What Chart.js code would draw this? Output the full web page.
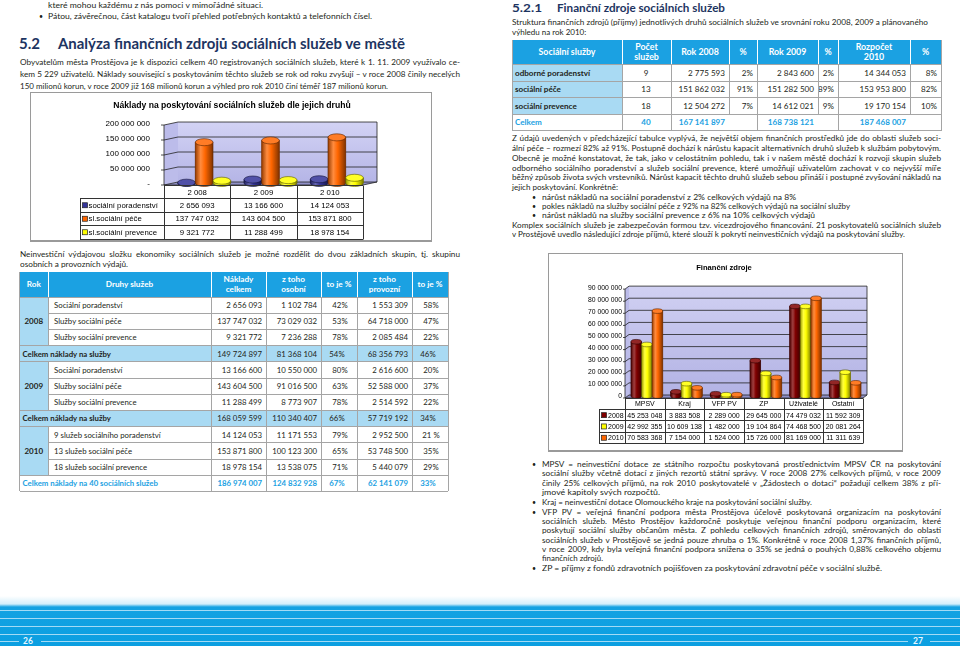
<!DOCTYPE html>
<html><head><meta charset="utf-8">
<script src="https://cdn.jsdelivr.net/npm/chart.js@4.4.0/dist/chart.umd.min.js"></script>
<style>
html,body{margin:0;padding:0;background:#fff;}
#page{position:relative;width:960px;height:646px;overflow:hidden;font-family:Lato,"Open Sans",sans-serif;color:#231f20;}
.t{position:absolute;white-space:nowrap;transform-origin:0 50%;}
.c{position:absolute;box-sizing:border-box;display:flex;align-items:center;white-space:pre;text-align:center;}
canvas{position:absolute;}
</style></head><body><div id="page"></div>
<script>
// ---------- DATA ----------
// Chart 1: Náklady na poskytování sociálních služeb dle jejich druhů
const costYears = ['2 008', '2 009', '2 010'];
const costSeriesNames = ['sociální poradenství', 'sl.sociální péče', 'sl.sociální prevence'];
const costPoradenstvi = [2656093, 13166600, 14124053];
const costPece = [137747032, 143604500, 153871800];
const costPrevence = [9321772, 11288499, 18978154];
const costTicks = [0, 50000000, 100000000, 150000000, 200000000];

// Chart 2: Finanční zdroje
const srcCategories = ['MPSV', 'Kraj', 'VFP PV', 'ZP', 'Uživatelé', 'Ostatní'];
const srcYears = ['2008', '2009', '2010'];
const src2008 = [45253048, 3883508, 2289000, 29645000, 74479032, 11592309];
const src2009 = [42992355, 10609138, 1482000, 19104864, 74468500, 20081264];
const src2010 = [70583368, 7154000, 1524000, 15726000, 81169000, 11311639];
const srcTicks = [0, 10000000, 20000000, 30000000, 40000000, 50000000, 60000000, 70000000, 80000000, 90000000];

// Table: osobní a provozní výdaje
const expHeader = ['Rok', 'Druhy služeb', 'Náklady\ncelkem', 'z toho\nosobní', 'to je %', 'z toho\nprovozní', 'to je %'];
const expYears = ['2008', '2009', '2010'];
const exp2008 = [
  ['Sociální poradenství', 2656093, 1102784, '42%', 1553309, '58%'],
  ['Služby sociální péče', 137747032, 73029032, '53%', 64718000, '47%'],
  ['Služby sociální prevence', 9321772, 7236288, '78%', 2085484, '22%']];
const expSum2008 = ['Celkem náklady na služby', 149724897, 81368104, '54%', 68356793, '46%'];
const exp2009 = [
  ['Sociální poradenství', 13166600, 10550000, '80%', 2616600, '20%'],
  ['Služby sociální péče', 143604500, 91016500, '63%', 52588000, '37%'],
  ['Služby sociální prevence', 11288499, 8773907, '78%', 2514592, '22%']];
const expSum2009 = ['Celkem náklady na služby', 168059599, 110340407, '66%', 57719192, '34%'];
const exp2010 = [
  ['9 služeb sociálního poradenství', 14124053, 11171553, '79%', 2952500, '21 %'],
  ['13 služeb sociální péče', 153871800, 100123300, '65%', 53748500, '35%'],
  ['18 služeb sociální prevence', 18978154, 13538075, '71%', 5440079, '29%']];
const expSum2010 = ['Celkem náklady na 40 sociálních služeb', 186974007, 124832928, '67%', 62141079, '33%'];

// Table: finanční zdroje
const finHeader = ['Sociální služby', 'Počet\nslužeb', 'Rok 2008', '%', 'Rok 2009', '%', 'Rozpočet\n2010', '%'];
const finRows = [
  ['odborné poradenství', 9, 2775593, '2%', 2843600, '2%', 14344053, '8%'],
  ['sociální péče', 13, 151862032, '91%', 151282500, '89%', 153953800, '82%'],
  ['sociální prevence', 18, 12504272, '7%', 14612021, '9%', 19170154, '10%']];
const finTotal = ['Celkem', 40, 167141897, '', 168738121, '', 187468007, ''];

// ---------- HELPERS ----------
const page = document.getElementById('page');
const fmt = v => typeof v === 'number' ? String(v).replace(/\B(?=(\d{3})+(?!\d))/g, ' ') : v;
const NAVY = '#1d3461', CYAN = '#1ba1e2', LIGHT = '#a9daf3', GRID = '#a5a5a5';

function addText(x, yc, w, mode, text, o = {}) {
  const size = o.size || 8.2, lh = o.lh || 11;
  const d = document.createElement('div');
  d.className = 't';
  d.textContent = text;
  Object.assign(d.style, {left: x + 'px', top: (yc - lh / 2) + 'px', lineHeight: lh + 'px', fontSize: size + 'px',
    fontWeight: o.bold ? '700' : '400', color: o.color || '#231f20'});
  page.appendChild(d);
  if (mode === 'n' || !w) return d;
  const nat = d.getBoundingClientRect().width;
  if (mode === 'j' && nat < w) {
    const sp = (text.match(/ /g) || []).length;
    if (sp) d.style.wordSpacing = ((w - nat) / sp) + 'px';
  } else {
    d.style.transform = 'scaleX(' + (w / nat) + ')';
  }
  return d;
}
function box(x0, y0, x1, y1, st) {
  const d = document.createElement('div');
  Object.assign(d.style, {position: 'absolute', left: x0 + 'px', top: y0 + 'px', width: (x1 - x0) + 'px', height: (y1 - y0) + 'px'}, st || {});
  page.appendChild(d); return d;
}
function cell(x0, y0, x1, y1, text, align, o = {}) {
  const d = document.createElement('div');
  d.className = 'c';
  Object.assign(d.style, {left: x0 + 'px', top: y0 + 'px', width: (x1 - x0) + 'px', height: (y1 - y0) + 'px',
    justifyContent: align === 'l' ? 'flex-start' : align === 'r' ? 'flex-end' : 'center',
    paddingLeft: (o.pl || 0) + 'px', paddingRight: (o.pr || 0) + 'px',
    fontSize: (o.size || 7.8) + 'px', lineHeight: (o.lh || 10) + 'px', fontWeight: o.bold ? '700' : '400',
    color: o.color || '#231f20', background: o.bg || 'transparent'});
  d.textContent = text;
  page.appendChild(d); return d;
}
const hline = (x0, x1, y, c, h) => box(x0, y, x1, y + (h || 1), {background: c || GRID});
const vline = (x, y0, y1, c) => box(x, y0, x + 1, y1, {background: c || GRID});

// ---------- LEFT PAGE TEXT ----------
addText(48, 5.5, 215, 'f', 'které mohou každému z nás pomoci v mimořádné situaci.');
addText(39, 16, 0, 'n', '•', {size: 7});
addText(48, 16, 324, 'f', 'Pátou, závěrečnou, část katalogu tvoří přehled potřebných kontaktů a telefonních čísel.');
addText(19, 43, 21, 'f', '5.2', {size: 16, bold: true, color: NAVY, lh: 20});
addText(58, 43, 347, 'f', 'Analýza finančních zdrojů sociálních služeb ve městě', {size: 16, bold: true, color: NAVY, lh: 20});
addText(20, 62, 440, 'j', 'Obyvatelům města Prostějova je k dispozici celkem 40 registrovaných sociálních služeb, které k 1. 11. 2009 využívalo ce-');
addText(20, 74, 440, 'j', 'kem 5 229 uživatelů. Náklady související s poskytováním těchto služeb se rok od roku zvyšují – v roce 2008 činily necelých');
addText(20, 86, 368, 'f', '150 milionů korun, v roce 2009 již 168 milionů korun a výhled pro rok 2010 činí téměř 187 milionů korun.');
addText(20, 254, 440, 'j', 'Neinvestiční výdajovou složku ekonomiky sociálních služeb je možné rozdělit do dvou základních skupin, tj. skupinu');
addText(20, 264, 108, 'f', 'osobních a provozních výdajů.');

// chart 1 frame
box(30, 92, 432, 242, {border: '1px solid #9a9a9a', borderBottom: '2px solid #9a9a9a', boxSizing: 'border-box'});

// ---------- LEFT TABLE ----------
(function () {
  const cols = [19.5, 48, 211, 266, 321, 357, 412, 448];
  const top = 272, hb = 297, rh = 16.2;
  box(cols[0], top, cols[7], hb, {background: CYAN});
  expHeader.forEach((h, i) => cell(cols[i], top, cols[i + 1], hb, h, 'c', {bold: true, color: '#fff', size: 8.2, lh: 9.6}));
  for (let i = 1; i < 7; i++) vline(cols[i], top, hb, '#fff');
  const groups = [[exp2008, expSum2008], [exp2009, expSum2009], [exp2010, expSum2010]];
  const aligns = ['l', 'r', 'r', 'c', 'r', 'c'];
  groups.forEach(([rows, sum], g) => {
    const gy = hb + g * 4 * rh;
    box(cols[0], gy, cols[1], gy + 3 * rh, {background: LIGHT});
    cell(cols[0], gy, cols[1], gy + 3 * rh, expYears[g], 'c', {bold: true, size: 8});
    rows.forEach((r, k) => {
      const y0 = gy + k * rh, y1 = y0 + rh;
      r.forEach((v, j) => cell(cols[j + 1], y0, cols[j + 2], y1, fmt(v), aligns[j], {pl: 6, pr: 4}));
    });
    const sy0 = gy + 3 * rh, sy1 = sy0 + rh;
    const last = g === 2;
    if (!last) box(cols[0], sy0, cols[7], sy1, {background: LIGHT});
    const o = last ? {bold: true, color: CYAN} : {};
    cell(cols[0], sy0, cols[2], sy1, sum[0], 'l', {pl: 3, bold: true, color: last ? CYAN : '#231f20'});
    for (let j = 1; j < 6; j++) cell(cols[j + 1], sy0, cols[j + 2], sy1, fmt(sum[j]), aligns[j], Object.assign({pr: 4}, o));
  });
  const bottom = hb + 12 * rh;
  for (let r = 0; r <= 12; r++) {
    const inner = r % 4 === 1 || r % 4 === 2;
    hline(inner ? cols[1] : cols[0], cols[7], hb + r * rh - 0.5);
  }
  for (let r = 0; r < 12; r++) {
    const y0 = hb + r * rh, y1 = y0 + rh;
    for (let i = 1; i < 7; i++) {
      if (i === 1 && r % 4 === 3) continue;
      vline(cols[i] - 0.5, y0, y1);
    }
  }
  vline(cols[0] - 0.5, top, bottom); vline(cols[7] - 0.5, top, bottom);
})();

// ---------- RIGHT PAGE TEXT ----------
addText(512, 7.5, 30, 'f', '5.2.1', {size: 11, bold: true, color: NAVY, lh: 14});
addText(557, 7.5, 168, 'f', 'Finanční zdroje sociálních služeb', {size: 11, bold: true, color: NAVY, lh: 14});
addText(512, 22, 416, 'f', 'Struktura finančních zdrojů (příjmy) jednotlivých druhů sociálních služeb ve srovnání roku 2008, 2009 a plánovaného');
addText(512, 32, 0, 'n', 'výhledu na rok 2010:', {size: 8});

(function () {
  const cols = [512, 622, 671, 729, 757, 818, 838, 910, 941];
  const top = 40, hb = 64, rows = [64, 81, 97.7, 114, 130.5];
  box(cols[0], top, cols[8], hb, {background: CYAN});
  finHeader.forEach((h, i) => cell(cols[i], top, cols[i + 1], hb, h, 'c', {bold: true, color: '#fff', size: 8.8, lh: 10}));
  for (let i = 1; i < 8; i++) vline(cols[i], top, hb, '#fff');
  finRows.forEach((r, k) => {
    const y0 = rows[k], y1 = rows[k + 1];
    box(cols[0], y0, cols[1], y1, {background: LIGHT});
    r.forEach((v, j) => {
      const al = j === 0 ? 'l' : j === 1 ? 'c' : 'r';
      cell(cols[j], y0, cols[j + 1], y1, fmt(v), al, {pl: 3, pr: j % 2 === 1 && j > 1 ? 4 : 4, size: 8.1, bold: j === 0});
    });
  });
  const y0 = rows[3], y1 = rows[4];
  finTotal.forEach((v, j) => {
    const al = j === 0 ? 'l' : j === 1 ? 'c' : 'r';
    cell(cols[j], y0, cols[j + 1], y1, fmt(v), al, {pl: 3, pr: 4, size: 8.1, bold: true, color: CYAN});
  });
  rows.forEach(y => hline(cols[0], cols[8], y - 0.5));
  for (let k = 0; k < 4; k++) {
    for (let i = 0; i <= 8; i++) {
      if (k === 3 && (i === 3 || i === 5 || i === 7)) continue;
      vline(cols[i] - 0.5, rows[k], rows[k + 1]);
    }
  }
  vline(cols[0] - 0.5, top, hb); vline(cols[8] - 0.5, top, hb);
})();

addText(512, 138, 429, 'j', 'Z údajů uvedených v předcházející tabulce vyplývá, že největší objem finančních prostředků jde do oblasti služeb soci-');
addText(512, 148, 429, 'j', 'ální péče – rozmezí 82% až 91%. Postupně dochází k nárůstu kapacit alternativních druhů služeb k službám pobytovým.');
addText(512, 158, 429, 'j', 'Obecně je možné konstatovat, že tak, jako v celostátním pohledu, tak i v našem městě dochází k rozvoji skupin služeb');
addText(512, 168, 429, 'j', 'odborného sociálního poradenství a služeb sociální prevence, které umožňují uživatelům zachovat v co nejvyšší míře');
addText(512, 177.5, 429, 'j', 'běžný způsob života svých vrstevníků. Nárůst kapacit těchto druhů služeb sebou přináší i postupné zvyšování nákladů na');
addText(512, 187, 106, 'f', 'jejich poskytování. Konkrétně:');
[[197, 254, 'nárůst nákladů na sociální poradenství z 2% celkových výdajů na 8%'],
 [206, 308, 'pokles nákladů na služby sociální péče z 92% na 82% celkových výdajů na sociální služby'],
 [215, 273, 'nárůst nákladů na služby sociální prevence z 6% na 10% celkových výdajů']].forEach(([y, w, s]) => {
  addText(532, y, 0, 'n', '•', {size: 7});
  addText(542, y, w, 'f', s);
});
addText(512, 225, 429, 'j', 'Komplex sociálních služeb je zabezpečován formou tzv. vicezdrojového financování. 21 poskytovatelů sociálních služeb');
addText(512, 234, 393, 'f', 'v Prostějově uvedlo následující zdroje příjmů, které slouží k pokrytí neinvestičních výdajů na poskytování služby.');

// chart 2 frame
box(548, 253, 903, 452, {border: '1px solid #9a9a9a', borderBottom: '2px solid #9a9a9a', boxSizing: 'border-box'});

// bullets under chart 2
[[464, 399, 'j', 'MPSV = neinvestiční dotace ze státního rozpočtu poskytovaná prostřednictvím MPSV ČR na poskytování', true],
 [473, 399, 'j', 'sociální služby včetně dotací z jiných rezortů státní správy. V roce 2008 27% celkových příjmů, v roce 2009'],
 [483, 399, 'j', 'činily 25% celkových příjmů, na rok 2010 poskytovatelé v „Žádostech o dotaci“ požadují celkem 38% z pří-'],
 [492, 118, 'f', 'jmové kapitoly svých rozpočtů.'],
 [502, 270, 'f', 'Kraj = neinvestiční dotace Olomouckého kraje na poskytování sociální služby.', true],
 [512, 399, 'j', 'VFP PV = veřejná finanční podpora města Prostějova účelově poskytovaná organizacím na poskytování', true],
 [521, 399, 'j', 'sociálních služeb. Město Prostějov každoročně poskytuje veřejnou finanční podporu organizacím, které'],
 [530, 399, 'j', 'poskytují sociální služby občanům města. Z pohledu celkových finančních zdrojů, směrovaných do oblasti'],
 [540, 399, 'j', 'sociálních služeb v Prostějově se jedná pouze zhruba o 1%. Konkrétně v roce 2008 1,37% finančních příjmů,'],
 [549, 399, 'j', 'v roce 2009, kdy byla veřejná finanční podpora snížena o 35% se jedná o pouhých 0,88% celkového objemu'],
 [558, 61, 'f', 'finančních zdrojů.'],
 [568.5, 340, 'f', 'ZP = příjmy z fondů zdravotních pojišťoven za poskytování zdravotní péče v sociální službě.', true]
].forEach(([y, w, m, s, b]) => {
  if (b) addText(532, y, 0, 'n', '•', {size: 7});
  addText(542, y, w, m, s);
});

// ---------- FOOTER ----------
box(0, 596, 960, 646, {background: 'linear-gradient(to bottom, rgba(255,255,255,0) 0px, #d4effb 8px, #14a2e2 11px, #0b9fe1 100%)'});
[609.5, 617.5, 625.5, 633.5].forEach(y => hline(0, 960, y, '#a3dbf5', 1.5));
hline(0, 19, 640.5, '#a3dbf5', 1.5); hline(41, 908, 640.5, '#a3dbf5', 1.5); hline(930, 960, 640.5, '#a3dbf5', 1.5);
addText(23, 641.5, 0, 'n', '26', {size: 8.5, bold: true, color: '#e8f7ff'});
addText(913, 641.5, 0, 'n', '27', {size: 8.5, bold: true, color: '#e8f7ff'});

// ---------- CHART PLUGINS ----------
function mix(hex, t) {
  const n = parseInt(hex.slice(1), 16); let r = n >> 16 & 255, g = n >> 8 & 255, b = n & 255;
  if (t < 0) { r *= 1 + t; g *= 1 + t; b *= 1 + t; } else { r += (255 - r) * t; g += (255 - g) * t; b += (255 - b) * t; }
  return 'rgb(' + (r | 0) + ',' + (g | 0) + ',' + (b | 0) + ')';
}
const wall3d = {
  id: 'wall3d',
  beforeDatasetsDraw(chart, args, o) {
    const {ctx, chartArea: a, scales: {y}} = chart;
    const dx = o.dx / 2, dy = o.dy / 2;
    ctx.save();
    const g = ctx.createLinearGradient(0, a.top, 0, a.bottom);
    g.addColorStop(0, o.wallTop); g.addColorStop(1, o.wallBottom);
    ctx.fillStyle = g;
    ctx.fillRect(a.left + dx, a.top - dy, a.right - a.left, a.bottom - a.top);
    ctx.fillStyle = o.side;
    ctx.beginPath(); ctx.moveTo(a.left - dx, a.top + dy); ctx.lineTo(a.left + dx, a.top - dy);
    ctx.lineTo(a.left + dx, a.bottom - dy); ctx.lineTo(a.left - dx, a.bottom + dy); ctx.closePath(); ctx.fill();
    ctx.fillStyle = o.floor;
    ctx.beginPath(); ctx.moveTo(a.left - dx, a.bottom + dy); ctx.lineTo(a.right - dx, a.bottom + dy);
    ctx.lineTo(a.right + dx, a.bottom - dy); ctx.lineTo(a.left + dx, a.bottom - dy); ctx.closePath(); ctx.fill();
    ctx.strokeStyle = o.grid; ctx.lineWidth = 0.8;
    y.ticks.forEach(t => {
      const py = y.getPixelForValue(t.value);
      ctx.beginPath();
      ctx.moveTo(a.left - dx - o.tick, py + dy); ctx.lineTo(a.left - dx, py + dy);
      ctx.lineTo(a.left + dx, py - dy); ctx.lineTo(a.right + dx, py - dy);
      ctx.stroke();
    });
    ctx.beginPath();
    ctx.moveTo(a.left - dx, a.top + dy); ctx.lineTo(a.left - dx, a.bottom + dy);
    ctx.lineTo(a.right - dx, a.bottom + dy); ctx.lineTo(a.right + dx, a.bottom - dy); ctx.lineTo(a.right + dx, a.top - dy);
    ctx.stroke();
    ctx.restore();
  }
};
const cyl3d = {
  id: 'cyl3d',
  afterDatasetsDraw(chart, args, o) {
    const ctx = chart.ctx;
    ctx.save();
    chart.data.datasets.forEach((ds, di) => {
      const meta = chart.getDatasetMeta(di);
      const c = ds.backgroundColor;
      meta.data.forEach(el => {
        const p = el.getProps(['x', 'y', 'base', 'width'], true);
        const w = p.width, l = p.x - w / 2, r = p.x + w / 2, ry = Math.max(1.2, w * o.ell);
        const g = ctx.createLinearGradient(l, 0, r, 0);
        g.addColorStop(0, mix(c, -0.4)); g.addColorStop(0.3, mix(c, 0.25)); g.addColorStop(0.55, c); g.addColorStop(1, mix(c, -0.5));
        ctx.fillStyle = g; ctx.strokeStyle = mix(c, -0.65); ctx.lineWidth = 0.6;
        ctx.beginPath();
        ctx.moveTo(l, p.y); ctx.lineTo(l, p.base);
        ctx.ellipse(p.x, p.base, w / 2, ry, 0, Math.PI, 0, true);
        ctx.lineTo(r, p.y); ctx.closePath();
        ctx.fill(); ctx.stroke();
        ctx.beginPath(); ctx.ellipse(p.x, p.y, w / 2, ry, 0, 0, Math.PI * 2);
        ctx.fillStyle = mix(c, 0.15); ctx.fill(); ctx.stroke();
      });
    });
    ctx.restore();
  }
};
const dataTable = {
  id: 'dataTable',
  afterDraw(chart, args, o) {
    const {ctx, chartArea: a, scales: {x}} = chart;
    const labels = chart.data.labels, n = labels.length, ds = chart.data.datasets;
    const cw = (a.right - a.left) / n, x0 = a.left - o.dx / 2, x1 = x0 + n * cw;
    const top = a.bottom + o.dy / 2, bottom = top + o.hh + ds.length * o.rh;
    ctx.save();
    ctx.strokeStyle = o.line; ctx.lineWidth = 1;
    const hl = (xa, xb, yy) => { yy = Math.round(yy) + 0.5; ctx.beginPath(); ctx.moveTo(xa, yy); ctx.lineTo(xb, yy); ctx.stroke(); };
    const vl = (xx, ya, yb) => { xx = Math.round(xx) + 0.5; ctx.beginPath(); ctx.moveTo(xx, Math.round(ya) + 0.5); ctx.lineTo(xx, Math.round(yb) + 0.5); ctx.stroke(); };
    hl(x0, x1, top);
    for (let k = 0; k <= ds.length; k++) hl(o.labelLeft, x1, top + o.hh + k * o.rh);
    for (let i = 0; i <= n; i++) vl(x0 + i * cw, top, bottom);
    vl(o.labelLeft, top + o.hh, bottom);
    ctx.font = o.font; ctx.textBaseline = 'middle'; ctx.textAlign = 'center'; ctx.fillStyle = '#000';
    labels.forEach((l, i) => ctx.fillText(l, x.getPixelForValue(i) - o.dx / 2, top + o.hh / 2 + 1));
    ds.forEach((d, k) => {
      const cy = top + o.hh + k * o.rh + o.rh / 2 + 1;
      ctx.fillStyle = d.backgroundColor;
      ctx.fillRect(o.labelLeft + 2.5, cy - o.sq / 2 - 0.5, o.sq, o.sq);
      ctx.strokeStyle = '#222'; ctx.lineWidth = 0.7;
      ctx.strokeRect(o.labelLeft + 2.5, cy - o.sq / 2 - 0.5, o.sq, o.sq);
      ctx.fillStyle = '#000'; ctx.textAlign = 'left';
      ctx.fillText(d.label, o.labelLeft + o.tx, cy);
      ctx.textAlign = 'center';
      d.data.forEach((v, i) => ctx.fillText(fmt(v), x.getPixelForValue(i) - o.dx / 2, cy));
    });
    ctx.restore();
  }
};

// ---------- CHARTS ----------
Chart.defaults.font.family = '"Liberation Sans", Arial, sans-serif';
Chart.defaults.color = '#000';

function mkCanvas(id, x, y, w, h) {
  const c = document.createElement('canvas');
  c.id = id; c.width = w; c.height = h;
  c.style.left = x + 'px'; c.style.top = y + 'px'; c.style.width = w + 'px'; c.style.height = h + 'px';
  page.appendChild(c); return c;
}

new Chart(mkCanvas('c1', 31, 93, 400, 147), {
  type: 'bar',
  data: {
    labels: costYears,
    datasets: [
      {label: costSeriesNames[0], data: costPoradenstvi, backgroundColor: '#333399'},
      {label: costSeriesNames[1], data: costPece, backgroundColor: '#ff6600'},
      {label: costSeriesNames[2], data: costPrevence, backgroundColor: '#ffff00'}]
  },
  options: {
    responsive: false, animation: false, devicePixelRatio: 1,
    layout: {padding: {left: 63, right: 61, top: 0, bottom: 56.5}},
    datasets: {bar: {categoryPercentage: 0.8, barPercentage: 1}},
    scales: {
      x: {display: false},
      y: {
        min: 0, max: 200000000,
        afterFit: s => { s.width = 77; },
        afterBuildTicks: s => { s.ticks = costTicks.map(v => ({value: v})); },
        ticks: {padding: 13, font: {size: 8}, color: '#000', callback: v => v === 0 ? '-' : fmt(v)},
        grid: {display: true, color: 'rgba(0,0,0,0)', drawOnChartArea: false, drawTicks: true, tickLength: 8},
        border: {display: false}
      }
    },
    plugins: {
      legend: {display: false}, tooltip: {enabled: false},
      title: {display: true, text: 'Náklady na poskytování sociálních služeb dle jejich druhů',
        font: {size: 8.6, weight: 'bold'}, color: '#000', padding: {top: 7.8, bottom: 12.4}},
      wall3d: {dx: 14, dy: 3, tick: 3, wallTop: '#d2d2f4', wallBottom: '#b4b4e6', side: '#bcbcea', floor: '#8f8fc6', grid: '#222'},
      cyl3d: {ell: 0.2},
      dataTable: {dx: 14, dy: 3, hh: 13, rh: 13.5, labelLeft: 49, sq: 5, tx: 8.5, font: '7.8px "Liberation Sans", Arial', line: '#333'}
    }
  },
  plugins: [wall3d, cyl3d, dataTable]
});

new Chart(mkCanvas('c2', 549, 254, 353, 196), {
  type: 'bar',
  data: {
    labels: srcCategories,
    datasets: [
      {label: srcYears[0], data: src2008, backgroundColor: '#800000'},
      {label: srcYears[1], data: src2009, backgroundColor: '#ffff00'},
      {label: srcYears[2], data: src2010, backgroundColor: '#ff6600'}]
  },
  options: {
    responsive: false, animation: false, devicePixelRatio: 1,
    layout: {padding: {left: 34, right: 37, top: 0, bottom: 53.5}},
    datasets: {bar: {categoryPercentage: 0.8, barPercentage: 1}},
    scales: {
      x: {display: false},
      y: {
        min: 0, max: 90000000,
        afterFit: s => { s.width = 44; },
        afterBuildTicks: s => { s.ticks = srcTicks.map(v => ({value: v})); },
        ticks: {padding: 3, font: {size: 6.8}, color: '#000', callback: v => fmt(v)},
        grid: {display: true, color: 'rgba(0,0,0,0)', drawOnChartArea: false, drawTicks: true, tickLength: 2},
        border: {display: false}
      }
    },
    plugins: {
      legend: {display: false}, tooltip: {enabled: false},
      title: {display: true, text: 'Finanční zdroje', font: {size: 7.6, weight: 'bold'}, color: '#000', padding: {top: 9.5, bottom: 15}},
      wall3d: {dx: 4, dy: 3, tick: 2, wallTop: '#d0d0f2', wallBottom: '#b2b2e4', side: '#bcbcea', floor: '#8f8fc6', grid: '#222'},
      cyl3d: {ell: 0.22},
      dataTable: {dx: 4, dy: 3, hh: 11, rh: 11.3, labelLeft: 50, sq: 5, tx: 9, font: '7px "Liberation Sans", Arial', line: '#333'}
    }
  },
  plugins: [wall3d, cyl3d, dataTable]
});
</script>
</body></html>
